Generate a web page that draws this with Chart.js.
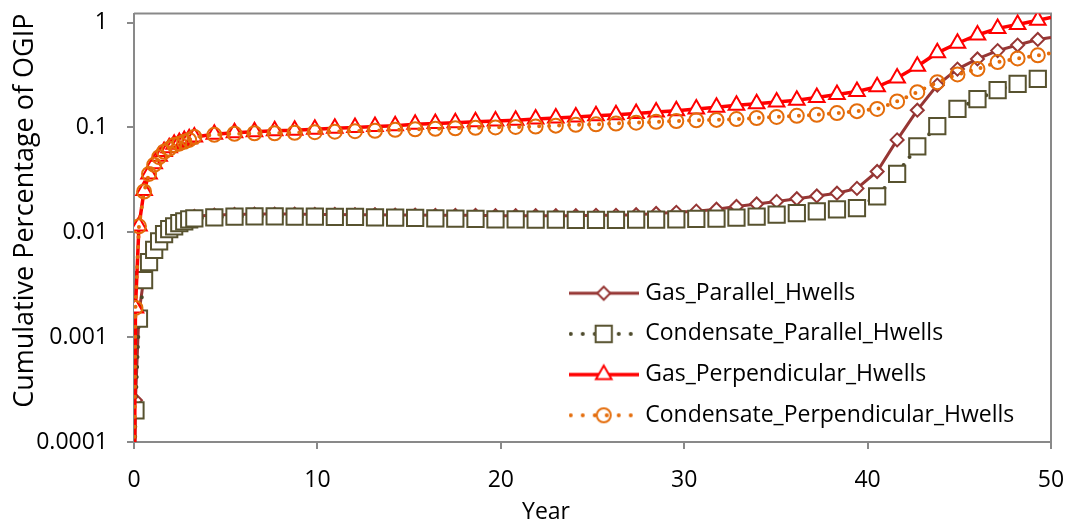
<!DOCTYPE html>
<html>
<head>
<meta charset="utf-8">
<script src="https://cdn.jsdelivr.net/npm/chart.js@4.4.1/dist/chart.umd.min.js"></script>
<style>
  html, body { margin: 0; padding: 0; background: #fff; }
</style>
</head>
<body>
<canvas id="ogip" width="1073" height="530"></canvas>
<script>
// time steps (years): 100-day steps early on, 400-day steps after that
const years = [0, 0.08, 0.27, 0.55, 0.82, 1.1, 1.37, 1.64, 1.92, 2.19, 2.47, 2.74, 3.01, 3.29,
  4.38, 5.48, 6.57, 7.67, 8.76, 9.86, 10.95, 12.05, 13.14, 14.24, 15.33, 16.43, 17.52, 18.62,
  19.71, 20.81, 21.9, 23.0, 24.09, 25.19, 26.28, 27.38, 28.47, 29.57, 30.66, 31.76, 32.85,
  33.95, 35.04, 36.14, 37.23, 38.33, 39.42, 40.52, 41.61, 42.71, 43.8, 44.9, 45.99, 47.09,
  48.18, 49.28, 50];

const gasParallel = [0.00001, 0.00025, 0.0017, 0.0038, 0.0056, 0.0072, 0.0087, 0.0101, 0.0112,
  0.0120, 0.0127, 0.0133, 0.0138, 0.0142, 0.0146, 0.0148, 0.0149, 0.0149, 0.0149, 0.0148,
  0.0148, 0.0147, 0.0147, 0.0146, 0.0146, 0.0145, 0.0145, 0.0145, 0.0144, 0.0144, 0.0144,
  0.0144, 0.0144, 0.0145, 0.0145, 0.0147, 0.0151, 0.0155, 0.0159, 0.0166, 0.0176, 0.0186,
  0.0197, 0.0209, 0.0222, 0.0236, 0.0262, 0.038, 0.076, 0.146, 0.253, 0.36, 0.45, 0.54,
  0.61, 0.69, 0.72];

const condParallel = [0.00001, 0.0002, 0.0015, 0.0035, 0.0052, 0.0068, 0.0082, 0.0096, 0.0107,
  0.0114, 0.0122, 0.0127, 0.0133, 0.0136, 0.0139, 0.0141, 0.0142, 0.0142, 0.0141, 0.0141,
  0.0140, 0.0140, 0.0139, 0.0138, 0.0137, 0.0136, 0.0135, 0.0134, 0.0133, 0.0133, 0.0132,
  0.0132, 0.0131, 0.0131, 0.0131, 0.0132, 0.0132, 0.0133, 0.0134, 0.0135, 0.0138, 0.0141,
  0.0147, 0.0152, 0.0158, 0.0165, 0.0170, 0.022, 0.036, 0.066, 0.103, 0.150, 0.186, 0.227,
  0.260, 0.290, 0.310];

const gasPerpendicular = [0.00001, 0.0019, 0.0115, 0.025, 0.036, 0.045, 0.053, 0.059, 0.064,
  0.069, 0.072, 0.075, 0.078, 0.081, 0.086, 0.089, 0.091, 0.093, 0.094, 0.096, 0.098, 0.100,
  0.102, 0.104, 0.107, 0.109, 0.111, 0.113, 0.115, 0.117, 0.120, 0.123, 0.126, 0.129, 0.132,
  0.136, 0.140, 0.144, 0.150, 0.156, 0.163, 0.168, 0.175, 0.182, 0.193, 0.206, 0.220, 0.244,
  0.296, 0.383, 0.514, 0.635, 0.761, 0.880, 0.957, 1.05, 1.12];

const condPerpendicular = [0.00001, 0.0019, 0.0114, 0.0245, 0.036, 0.044, 0.052, 0.0586, 0.0625,
  0.068, 0.070, 0.073, 0.076, 0.081, 0.085, 0.087, 0.088, 0.088, 0.089, 0.090, 0.091, 0.092,
  0.093, 0.095, 0.096, 0.097, 0.098, 0.099, 0.100, 0.101, 0.102, 0.104, 0.106, 0.107, 0.109,
  0.111, 0.113, 0.115, 0.117, 0.118, 0.120, 0.123, 0.126, 0.129, 0.132, 0.137, 0.143, 0.150,
  0.177, 0.217, 0.270, 0.320, 0.360, 0.420, 0.455, 0.487, 0.510];

const seriesNames = ['Gas_Parallel_Hwells', 'Condensate_Parallel_Hwells',
  'Gas_Perpendicular_Hwells', 'Condensate_Perpendicular_Hwells'];
const yTicks = [0.0001, 0.001, 0.01, 0.1, 1];
const xTicks = [0, 10, 20, 30, 40, 50];

const AXIS = '#898989';
const looks = [
  { color: '#963634', width: 3, dotted: false, style: 'rectRot', r: 6.5, fill: '#ffffff', edge: '#963634' },
  { color: '#4B4728', width: 4, dotted: true, style: 'rect', r: 11.5, fill: '#ffffff', edge: '#57522F' },
  { color: '#FF0000', width: 3.5, dotted: false, style: 'triangle', r: 9, fill: '#ffffff', edge: '#FF0000' },
  { color: '#E46C0A', width: 4, dotted: true, style: 'circle', r: 7, fill: 'rgba(0,0,0,0)', edge: '#E46C0A' }
];

// little line + marker swatch for each legend entry
function swatch(lk) {
  const c = document.createElement('canvas');
  c.width = 70; c.height = 26;
  const g = c.getContext('2d');
  g.strokeStyle = lk.color;
  g.lineWidth = lk.width;
  g.lineCap = lk.dotted ? 'round' : 'butt';
  g.setLineDash(lk.dotted ? [0, 12] : []);
  g.beginPath();
  g.moveTo(lk.dotted ? 2 : 0, 13);
  g.lineTo(70, 13);
  g.stroke();
  g.setLineDash([]);
  g.fillStyle = lk.fill;
  g.strokeStyle = lk.edge;
  g.lineWidth = 2;
  Chart.helpers.drawPoint(g, { pointStyle: lk.style, radius: lk.r, borderWidth: 2, rotation: 0 }, 35, 13);
  return c;
}
const swatches = looks.map(swatch);

const series = [gasParallel, condParallel, gasPerpendicular, condPerpendicular];
const last = years.length - 1;

const datasets = series.map((vals, i) => {
  const lk = looks[i];
  return {
    label: seriesNames[i],
    data: years.map((t, j) => ({ x: t, y: vals[j] })),
    borderColor: lk.color,
    borderWidth: lk.width,
    borderDash: lk.dotted ? [0, 10] : [],
    borderCapStyle: lk.dotted ? 'round' : 'butt',
    pointStyle: lk.style,
    pointRadius: (ctx) => (ctx.dataIndex === last ? 0 : lk.r),
    pointBorderWidth: 2,
    pointBorderColor: lk.edge,
    pointBackgroundColor: lk.fill,
    fill: false,
    tension: 0,
    order: 4 - i
  };
});

// top and right edges of the plot frame, and legend placement inside the plot
const frame = {
  id: 'frame',
  afterLayout(chart) {
    const lg = chart.legend;
    if (!lg) return;
    const h = lg.height;
    lg.left = 556;
    lg.top = 264;
    lg.right = lg.left + lg.width;
    lg.bottom = lg.top + h;
  },
  beforeDatasetsDraw(chart) {
    const { ctx, chartArea: a } = chart;
    ctx.save();
    ctx.strokeStyle = AXIS;
    ctx.lineWidth = 2;
    ctx.beginPath();
    ctx.moveTo(a.left, a.top);
    ctx.lineTo(a.right, a.top);
    ctx.lineTo(a.right, a.bottom);
    ctx.stroke();
    ctx.restore();
  }
};

Chart.defaults.font.family = "'Open Sans', sans-serif";
Chart.defaults.color = '#000';

new Chart(document.getElementById('ogip'), {
  type: 'line',
  data: { datasets },
  plugins: [frame],
  options: {
    responsive: false,
    animation: false,
    events: [],
    layout: { padding: { left: 19, top: 11, right: 0, bottom: 0 } },
    scales: {
      x: {
        type: 'linear',
        min: 0,
        max: 50,
        afterBuildTicks: (s) => { s.ticks = xTicks.map(v => ({ value: v })); },
        afterFit: (s) => { s.height = 52.4; s.paddingLeft = 0; s.paddingRight = 22; },
        ticks: { font: { size: 23 }, padding: 18, maxRotation: 0 },
        grid: { drawOnChartArea: false, drawTicks: true, tickLength: 7, tickColor: AXIS, lineWidth: 2 },
        border: { display: true, color: AXIS, width: 2 }
      },
      y: {
        type: 'logarithmic',
        min: 0.0001,
        max: 1.22,
        afterBuildTicks: (s) => { s.ticks = yTicks.map(v => ({ value: v })); },
        afterFit: (s) => { s.width = 115; s.paddingTop = 0; s.paddingBottom = 0; },
        ticks: { font: { size: 23 }, padding: 19, callback: (v) => String(v) },
        grid: { drawOnChartArea: false, drawTicks: true, tickLength: 7, tickColor: AXIS, lineWidth: 2 },
        border: { display: true, color: AXIS, width: 2 },
        title: {
          display: true,
          text: 'Cumulative Percentage of OGIP',
          align: 'end',
          font: { size: 27 },
          padding: { top: -10, bottom: 0 }
        }
      }
    },
    plugins: {
      title: {
        display: true,
        position: 'bottom',
        text: 'Year',
        font: { size: 23, weight: 'normal' },
        padding: { top: 4, bottom: 4 }
      },
      legend: {
        position: 'chartArea',
        align: 'start',
        labels: {
          usePointStyle: true,
          pointStyleWidth: 60,
          font: { size: 23 },
          padding: 17.7,
          color: '#000',
          generateLabels(chart) {
            const items = Chart.defaults.plugins.legend.labels.generateLabels(chart);
            items.forEach(it => { it.pointStyle = swatches[it.datasetIndex]; });
            return items;
          },
          sort: (a, b) => a.datasetIndex - b.datasetIndex
        }
      },
      tooltip: { enabled: false }
    }
  }
});
</script>
</body>
</html>
